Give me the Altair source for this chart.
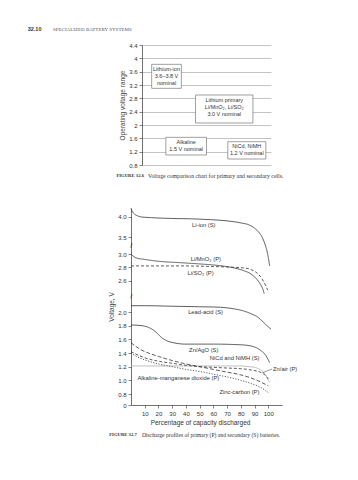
import altair as alt
import pandas as pd

SANS = "Liberation Sans"
SERIF = "Liberation Serif"
INK = "#333333"

# ---------------- Figure 32.6 : voltage comparison ----------------
fig1_ticks = [0.8, 1.2, 1.6, 2.0, 2.4, 2.8, 3.2, 3.6, 4.0, 4.4]
box_label = [
    "Lithium-ion\n3.6–3.8 V\nnominal",
    "Lithium primary\nLi/MnO₂, Li/SO₂\n3.0 V nominal",
    "Alkaline\n1.5 V nominal",
    "NiCd, NiMH\n1.2 V nominal",
]
box_v_low = [3.1, 2.06, 1.1, 0.98]
box_v_high = [3.82, 2.9, 1.63, 1.5]
box_col_left = [7.5, 41.5, 18.5, 66.5]
box_col_right = [30.5, 86.0, 50.0, 96.0]

# ---------------- Figure 32.7 : discharge profiles ----------------
series_names = [
    "Li-ion (S)", "Li/MnO₂ (P)", "Li/SO₂ (P)", "Lead-acid (S)", "Zn/AgO (S)",
    "NiCd and NiMH (S)", "Zn/air (P)", "Alkaline-manganese dioxide (P)", "Zinc-carbon (P)",
]
li_ion_x = [0, 1, 2.5, 4.5, 7, 15, 30, 45, 58, 70, 80, 86, 90, 93, 95.5, 97.5, 99, 100, 101]
li_ion_y = [4.21, 4.13, 4.07, 4.03, 4.0, 3.98, 3.96, 3.95, 3.93, 3.9, 3.85, 3.8, 3.72, 3.62, 3.5, 3.3, 3.1, 2.95, 2.82]
limno2_x = [0, 1.5, 4, 9.5, 20, 35, 50, 62, 75, 82, 88, 92, 94.5, 96, 97]
limno2_y = [3.0, 2.97, 2.94, 2.92, 2.89, 2.87, 2.85, 2.83, 2.79, 2.75, 2.69, 2.61, 2.52, 2.44, 2.35]
liso2_x = [0, 20, 40, 60, 75, 82, 88, 92, 95, 97, 98.5, 99.5]
liso2_y = [2.82, 2.82, 2.82, 2.81, 2.8, 2.79, 2.76, 2.71, 2.64, 2.56, 2.48, 2.42]
lead_x = [0, 10, 30, 50, 65, 75, 82, 88, 92, 96, 99, 102]
lead_y = [2.12, 2.12, 2.11, 2.1, 2.09, 2.06, 2.02, 1.97, 1.93, 1.86, 1.8, 1.75]
znago_x = [0, 8, 12, 16, 19, 22, 26, 31, 40, 60, 80, 88, 92, 95, 98, 100, 101]
znago_y = [1.81, 1.8, 1.78, 1.74, 1.69, 1.63, 1.58, 1.55, 1.53, 1.53, 1.52, 1.5, 1.47, 1.43, 1.37, 1.3, 1.26]
nicd_x = [0, 20, 60, 80, 86, 90, 93, 96, 98, 100, 101]
nicd_y = [1.21, 1.21, 1.21, 1.21, 1.2, 1.19, 1.17, 1.13, 1.08, 1.0, 0.97]
znair_x = [0, 5, 10, 20, 30, 40, 50, 60, 70, 80, 88, 94, 98, 100]
znair_y = [1.42, 1.37, 1.33, 1.28, 1.25, 1.22, 1.2, 1.19, 1.18, 1.17, 1.15, 1.12, 1.07, 1.02]
alk_x = [0, 4, 8, 14, 20, 30, 40, 50, 60, 70, 80, 88, 94, 100]
alk_y = [1.55, 1.49, 1.44, 1.39, 1.35, 1.29, 1.24, 1.2, 1.16, 1.12, 1.08, 1.03, 0.98, 0.92]
zc_x = [0, 5, 10, 20, 30, 40, 50, 60, 70, 80, 88, 94, 98, 100]
zc_y = [1.4, 1.34, 1.3, 1.24, 1.2, 1.16, 1.13, 1.09, 1.05, 1.0, 0.95, 0.9, 0.85, 0.82]

series_x = [li_ion_x, limno2_x, liso2_x, lead_x, znago_x, nicd_x, znair_x, alk_x, zc_x]
series_y = [li_ion_y, limno2_y, liso2_y, lead_y, znago_y, nicd_y, znair_y, alk_y, zc_y]

label_x = [53, 54.5, 50.7, 54.3, 53, 75.5, 103.5, 34.5, 79]
label_v = [3.8, 2.92, 2.71, 2.0, 1.44, 1.32, 1.17, 1.04, 0.825]

x_ticks = [10, 20, 30, 40, 50, 60, 70, 80, 90, 100]
y_ticks = [0, 0.8, 1.0, 1.2, 1.4, 1.6, 1.8, 2.0, 2.6, 2.8, 3.0, 3.5, 4.0]
y_break_domain = [0, 0.8, 2.0, 2.6, 3.0, 3.5, 4.22]
y_break_range = [197, 186, 104, 72.5, 46, 29, 0]
break_marks_v = [3.25, 2.3]

# ---------------- styles ----------------
dashes = [[1, 0], [1, 0], [3, 2], [1, 0], [1, 0], [1, 0], [3, 2], [4, 2], [1.2, 1.5]]
colors = [INK, INK, INK, INK, INK, "#b0b0b0", INK, INK, INK]
widths = [0.8, 0.8, 0.8, 0.8, 0.8, 2.2, 0.7, 0.7, 0.8]

# ---------------- Figure 1 chart ----------------
boxes = pd.DataFrame({
    "label": box_label, "low": box_v_low, "high": box_v_high,
    "left": box_col_left, "right": box_col_right,
})
boxes["xm"] = (boxes["left"] + boxes["right"]) / 2

W1, H1 = 129, 120
xs1 = alt.Scale(domain=[0, 100], nice=False, zero=False)
ys1 = alt.Scale(domain=[0.8, 4.4], nice=False, zero=False)

rects = alt.Chart(boxes).mark_rect(fill="white", stroke="#777777", strokeWidth=0.7).encode(
    x=alt.X("left:Q", scale=xs1, axis=None),
    x2="right:Q",
    y=alt.Y("low:Q", scale=ys1, axis=alt.Axis(
        values=fig1_ticks, tickCount=40, format="~g", grid=True, gridColor="#9a9a9a", gridWidth=0.6,
        labelOverlap=False, labelFlush=False,
        domainColor=INK, domainWidth=0.7, tickColor=INK, tickWidth=0.6, tickSize=3,
        labelFontSize=6, labelFont=SANS, labelColor=INK, labelPadding=2,
        title="Operating voltage range", titleFont=SANS, titleFontSize=6.5,
        titleFontWeight="normal", titleColor="#444444", titlePadding=3)),
    y2="high:Q",
)
box_text = alt.Chart(boxes).mark_text(
    lineBreak="\n", fontSize=5.5, font=SANS, color=INK, lineHeight=7.3, baseline="top", dy=2.5
).encode(x=alt.X("xm:Q", scale=xs1), y=alt.Y("high:Q", scale=ys1), text="label:N")

one = pd.DataFrame({"a": [0]})
header_num = alt.Chart(one).mark_text(
    text="32.10", font=SANS, fontWeight="bold", fontSize=5.5, color=INK, align="left", baseline="middle"
).encode(x=alt.value(-114.3), y=alt.value(-16.3))
header_txt = alt.Chart(one).mark_text(
    text="SPECIALIZED BATTERY SYSTEMS", font=SERIF, fontSize=5, color="#555555", align="left", baseline="middle"
).encode(x=alt.value(-89), y=alt.value(-16.3))
cap1_a = alt.Chart(one).mark_text(
    text="FIGURE 32.6", font=SERIF, fontWeight="bold", fontSize=4.7, color=INK, align="left", baseline="middle"
).encode(x=alt.value(-25.6), y=alt.value(131))
cap1_b = alt.Chart(one).mark_text(
    text="Voltage comparison chart for primary and secondary cells.", font=SERIF, fontSize=5.8,
    color=INK, align="left", baseline="middle"
).encode(x=alt.value(6), y=alt.value(131))

fig1 = alt.layer(rects, box_text, header_num, header_txt, cap1_a, cap1_b).properties(width=W1, height=H1)

# ---------------- Figure 2 chart ----------------
rows = []
for name, xs, ys in zip(series_names, series_x, series_y):
    for i, (a, b) in enumerate(zip(xs, ys)):
        rows.append({"series": name, "pct": a, "volt": b, "i": i})
curves = pd.DataFrame(rows)
labels = pd.DataFrame({"series": series_names, "lx": label_x, "lv": label_v})
labels["align"] = ["center"] * 6 + ["left"] + ["center"] * 2

W2, H2 = 151, 197
xs2 = alt.Scale(domain=[0, 110], nice=False, zero=False)
ys2 = alt.Scale(domain=y_break_domain, range=y_break_range, nice=False, zero=False)

lines = alt.Chart(curves).mark_line(interpolate="monotone").encode(
    x=alt.X("pct:Q", scale=xs2, axis=alt.Axis(
        values=x_ticks, tickCount=40, domainColor=INK, domainWidth=0.7, tickColor=INK, tickWidth=0.6, tickSize=3,
        labelOverlap=False, labelFlush=False,
        labelFontSize=6, labelFont=SANS, labelColor=INK, labelPadding=2, grid=False,
        title="Percentage of capacity discharged", titleFont=SANS, titleFontSize=6.5,
        titleFontWeight="normal", titleColor=INK, titlePadding=3, titleX=69)),
    y=alt.Y("volt:Q", scale=ys2, axis=alt.Axis(
        values=y_ticks, tickCount=40, labelExpr="datum.value == 0 ? '0' : format(datum.value, '.1f')",
        labelOverlap=False, labelFlush=False,
        domainColor=INK, domainWidth=0.7, tickColor=INK, tickWidth=0.6, tickSize=3,
        labelFontSize=6, labelFont=SANS, labelColor=INK, labelPadding=2, grid=False,
        title="Voltage, V", titleFont=SANS, titleFontSize=6.5, titleFontWeight="normal",
        titleColor="#444444", titlePadding=3)),
    detail="series:N",
    order="i:Q",
    color=alt.Color("series:N", scale=alt.Scale(domain=series_names, range=colors), legend=None),
    strokeDash=alt.StrokeDash("series:N", scale=alt.Scale(domain=series_names, range=dashes), legend=None),
    strokeWidth=alt.StrokeWidth("series:N", scale=alt.Scale(domain=series_names, range=widths), legend=None),
)
lab_c = alt.Chart(labels[labels["align"] == "center"]).mark_text(
    font=SANS, fontSize=5.8, color=INK, align="center", baseline="middle"
).encode(x=alt.X("lx:Q", scale=xs2), y=alt.Y("lv:Q", scale=ys2), text="series:N")
lab_l = alt.Chart(labels[labels["align"] == "left"]).mark_text(
    font=SANS, fontSize=5.8, color=INK, align="left", baseline="middle"
).encode(x=alt.X("lx:Q", scale=xs2), y=alt.Y("lv:Q", scale=ys2), text="series:N")

leader = pd.DataFrame({"x1": [95.5], "v1": [1.11], "x2": [102.8], "v2": [1.165]})
leader_rule = alt.Chart(leader).mark_rule(color=INK, strokeWidth=0.5).encode(
    x=alt.X("x1:Q", scale=xs2), y=alt.Y("v1:Q", scale=ys2), x2="x2:Q", y2="v2:Q")

breaks = pd.DataFrame({"bx": [0] * len(break_marks_v), "bv": break_marks_v, "t": ["~"] * len(break_marks_v)})
break_marks = alt.Chart(breaks).mark_text(
    font="DejaVu Sans", fontSize=8, color=INK, fill=INK, angle=100, align="center", baseline="middle"
).encode(x=alt.X("bx:Q", scale=xs2), y=alt.Y("bv:Q", scale=ys2), text="t:N")

cap2_a = alt.Chart(one).mark_text(
    text="FIGURE 32.7", font=SERIF, fontWeight="bold", fontSize=4.7, color=INK, align="left", baseline="middle"
).encode(x=alt.value(-21.8), y=alt.value(227))
cap2_b = alt.Chart(one).mark_text(
    text="Discharge profiles of primary (P) and secondary (S) batteries.", font=SERIF, fontSize=5.6,
    color=INK, align="left", baseline="middle"
).encode(x=alt.value(11), y=alt.value(227))

fig2 = alt.layer(lines, leader_rule, lab_c, lab_l, break_marks, cap2_a, cap2_b).properties(width=W2, height=H2)

chart = alt.vconcat(fig1, fig2, spacing=43, bounds="flush", center=True).properties(
    padding={"left": 19, "top": 18, "right": 5, "bottom": 5}
).configure_view(stroke=None).configure_axis(labelFont=SANS, titleFont=SANS)

chart.save("out.html", embed_options={"renderer": "svg", "actions": False})
